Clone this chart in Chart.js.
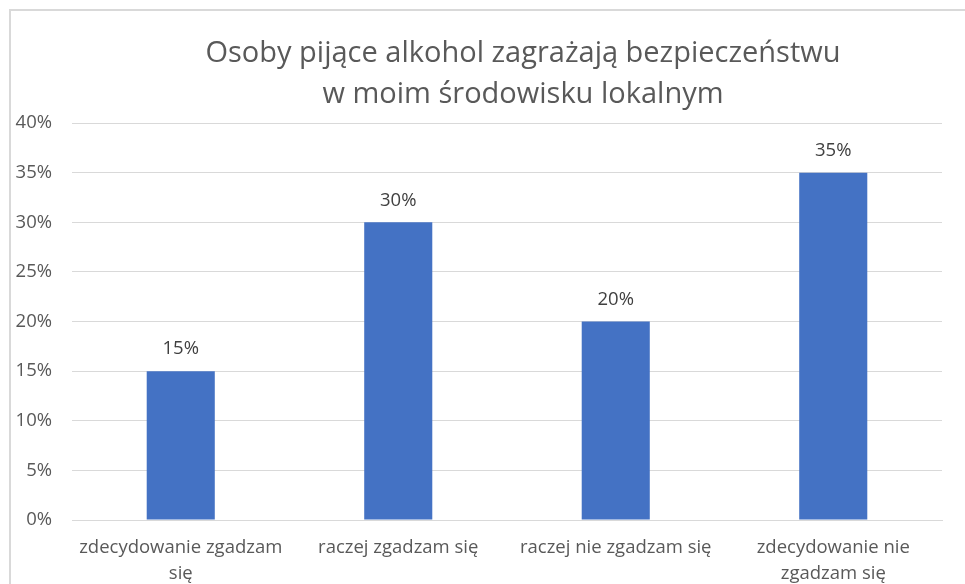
<!DOCTYPE html>
<html>
<head>
<meta charset="utf-8">
<script src="https://cdn.jsdelivr.net/npm/chart.js@4"></script>
<style>
  html, body { margin: 0; padding: 0; overflow: hidden; background: #fff; }
  #frame { position: absolute; left: 9px; top: 9px; width: 1028px; height: 600px; border: 2px solid #d9d9d9; box-sizing: border-box; }
  #wrap { position: absolute; left: 9px; top: 9px; width: 1028px; height: 600px; }
</style>
</head>
<body>
<div id="frame"></div>
<div id="wrap"><canvas id="chart" width="1028" height="600"></canvas></div>
<script>
var categories = [
    ['zdecydowanie zgadzam', 'się'],
    'raczej zgadzam się',
    'raczej nie zgadzam się',
    ['zdecydowanie nie', 'zgadzam się']
];
var values = [15, 30, 20, 35];
var titleLines = ['Osoby pijące alkohol zagrażają bezpieczeństwu', 'w moim środowisku lokalnym'];

var fontFamily = "'Open Sans', 'Noto Sans', sans-serif";

// title drawn centred on the whole chart frame, like the office chart
var frameTitle = {
    id: 'frameTitle',
    afterDraw: function (chart) {
        var ctx = chart.ctx;
        ctx.save();
        ctx.font = '29px ' + fontFamily;
        ctx.fillStyle = '#595959';
        ctx.textAlign = 'center';
        ctx.textBaseline = 'middle';
        ctx.fillText(titleLines[0], chart.width / 2, 45);
        ctx.fillText(titleLines[1], chart.width / 2, 86);
        ctx.restore();
    }
};

// labels above the bars
var barLabels = {
    id: 'barLabels',
    afterDatasetsDraw: function (chart) {
        var ctx = chart.ctx;
        var meta = chart.getDatasetMeta(0);
        ctx.save();
        ctx.font = '18.5px ' + fontFamily;
        ctx.fillStyle = '#404040';
        ctx.textAlign = 'center';
        ctx.textBaseline = 'middle';
        meta.data.forEach(function (bar, i) {
            ctx.fillText(values[i] + '%', bar.x, bar.y - 22);
        });
        ctx.restore();
    }
};

var ctx = document.getElementById('chart').getContext('2d');
new Chart(ctx, {
    type: 'bar',
    data: {
        labels: categories,
        datasets: [{
            data: values,
            backgroundColor: '#4472c4',
            barPercentage: 0.313,
            categoryPercentage: 1
        }]
    },
    options: {
        responsive: false,
        animation: false,
        layout: { padding: { left: 4, right: 95, top: 114, bottom: 0 } },
        plugins: {
            legend: { display: false },
            tooltip: { enabled: false },
            title: { display: false }
        },
        scales: {
            x: {
                grid: { display: false, drawTicks: false },
                border: { color: '#d9d9d9' },
                ticks: {
                    color: '#595959',
                    font: { family: fontFamily, size: 18.5, lineHeight: 1.4 },
                    padding: 15,
                    maxRotation: 0,
                    autoSkip: false
                },
                afterFit: function (scale) { scale.height = 89; }
            },
            y: {
                min: 0,
                max: 40,
                grid: { color: '#d9d9d9', drawTicks: false },
                border: { display: false },
                ticks: {
                    stepSize: 5,
                    color: '#595959',
                    font: { family: fontFamily, size: 18.5 },
                    padding: 20,
                    callback: function (v) { return v + '%'; }
                },
                afterFit: function (scale) { scale.width = 59; }
            }
        }
    },
    plugins: [barLabels, frameTitle]
});
</script>
</body>
</html>
